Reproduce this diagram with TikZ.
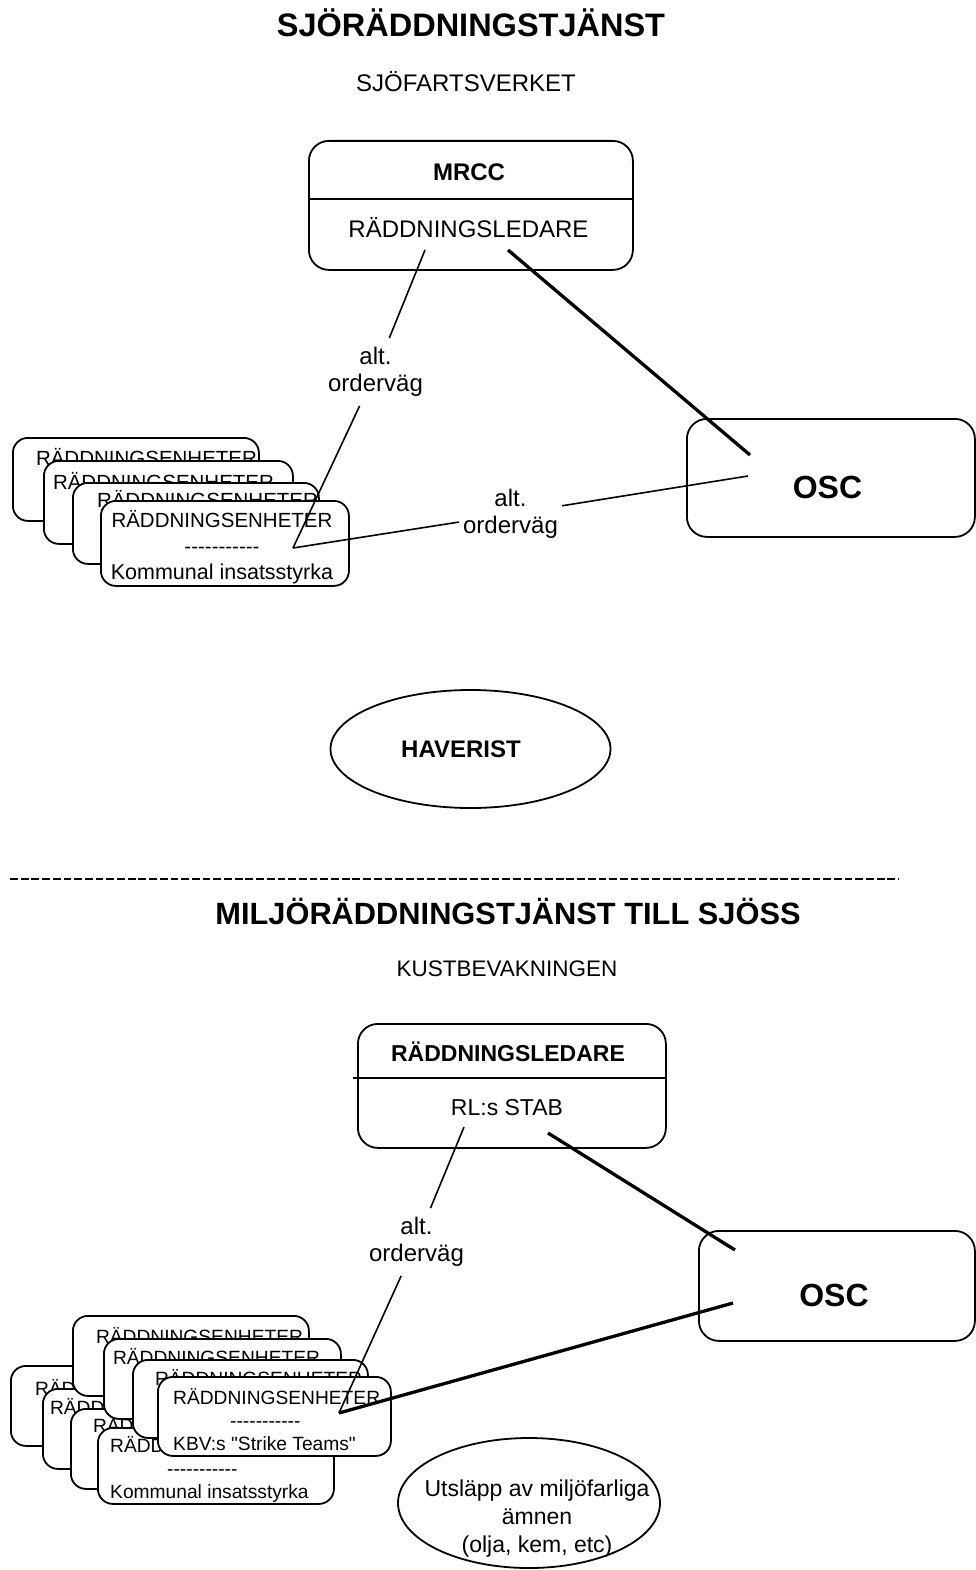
\documentclass[tikz,border=0pt]{standalone}
\usepackage{fontspec}
\setmainfont{Liberation Sans}[Ligatures=TeXOff]
\usepackage{tikz}
\usetikzlibrary{shapes.geometric}
\tikzset{
roundbox/.style={
    rectangle,
    draw=black,
    fill=white,
    line width=1.8pt,
    rounded corners=20pt,
    anchor=north west,
    inner sep=0pt
},
unitbox/.style={
    roundbox,
    rounded corners=15pt
},
blob/.style={
    ellipse,
    draw=black,
    fill=white,
    line width=1.8pt,
    inner sep=0pt
},
heading/.style={font=\fontsize{32.5pt}{38pt}\selectfont\bfseries, anchor=base, inner sep=0pt},
subheading/.style={font=\fontsize{24pt}{29pt}\selectfont, anchor=base, inner sep=0pt},
boldtext/.style={font=\fontsize{24pt}{29pt}\selectfont\bfseries, anchor=base, inner sep=0pt},
plaintext/.style={font=\fontsize{24pt}{29pt}\selectfont, anchor=base, inner sep=0pt},
osctext/.style={font=\fontsize{32pt}{38pt}\selectfont\bfseries, anchor=base, inner sep=0pt},
backtext/.style={font=\fontsize{20.5pt}{25.5pt}\selectfont, anchor=base, inner sep=0pt},
backtextsm/.style={font=\fontsize{19.2pt}{23pt}\selectfont, anchor=base, inner sep=0pt},
unittext/.style={align=center, font=\fontsize{20.5pt}{26pt}\selectfont, inner sep=0pt},
unittextsm/.style={align=left, anchor=west, font=\fontsize{19.2pt}{23pt}\selectfont, inner sep=0pt},
ordertext/.style={align=center, font=\fontsize{24pt}{27pt}\selectfont, inner xsep=4pt, inner ysep=9pt},
altline/.style={line width=1.6pt},
mainline/.style={line width=3.3pt}
}

\begin{document}
\begin{tikzpicture}[x=1pt, y=-1pt]

    \path[use as bounding box, fill=white] (0,0) rectangle (975,1570);

    % upper half: sjoraddning
    \node[heading] (sjotitle) at (471,37) {SJÖRÄDDNINGSTJÄNST};
    \node[subheading] (sjofv) at (466,92) {SJÖFARTSVERKET};

    \node[roundbox, minimum width=324pt, minimum height=129pt] (mrcc) at (308,140) {};
    \coordinate (mrccsplit) at (0,199);
    \draw[line width=1.8pt] (mrcc.west |- mrccsplit) -- (mrcc.east |- mrccsplit);
    \node[boldtext] (mrcctxt) at (469,180.6) {MRCC};
    \node[plaintext] (mrccrl) at (468.5,238) {RÄDDNINGSLEDARE};

    \node[roundbox, minimum width=288pt, minimum height=118pt] (osc1) at (686,418) {};
    \node[osctext] (osc1txt) at (827.5,498) {OSC};

    \node[unitbox, minimum width=246pt, minimum height=83pt] (u1) at (12,437) {};
    \node[backtext] (u1txt) at (146.5,465.3) {RÄDDNINGSENHETER};
    \node[unitbox, minimum width=249pt, minimum height=83pt] (u2) at (43,460) {};
    \node[backtext] (u2txt) at (163.5,489.3) {RÄDDNINGSENHETER};
    \node[unitbox, minimum width=246pt, minimum height=81pt] (u3) at (72,482) {};
    \node[backtext] (u3txt) at (207.5,507.3) {RÄDDNINGSENHETER};
    \node[unitbox, minimum width=248pt, minimum height=85pt] (u4) at (100,500) {};
    \node[unittext] (u4txt) at (222,547.5) {RÄDDNINGSENHETER\\-----------\\{\fontsize{21.5pt}{26pt}\selectfont Kommunal insatsstyrka}};

    \node[blob, minimum width=280pt, minimum height=118pt] (hav) at (470.5,749) {};
    \node[boldtext] (havtxt) at (461,757.6) {HAVERIST};

    \node[ordertext] (alt1) at (375.5,372) {alt.\\orderväg};
    \node[ordertext] (alt2) at (510.5,514) {alt.\\orderväg};

    % upper edges
    \coordinate (mrccA) at (425,250);
    \coordinate (mrccB) at (508,250);
    \coordinate (osc1A) at (750,455);
    \coordinate (osc1B) at (748,476);
    \coordinate (u4A) at (293,548);
    \draw[mainline] (mrccB) -- (osc1A);
    \draw[altline] (mrccA) -- (alt1);
    \draw[altline] (alt1) -- (u4A);
    \draw[altline] (u4A) -- (alt2);
    \draw[altline] (alt2) -- (osc1B);

    % separator
    \coordinate (sepL) at (10,879);
    \coordinate (sepR) at (899,879);
    \draw[line width=2.2pt, dash pattern=on 7.8pt off 2.9pt] (sepL) -- (sepR);

    % lower half: miljoraddning
    \node[heading, font=\fontsize{30.8pt}{36pt}\selectfont\bfseries] (miljtitle) at (508,924) {MILJÖRÄDDNINGSTJÄNST TILL SJÖSS};
    \node[subheading, font=\fontsize{22.5pt}{27pt}\selectfont] (kbv) at (507,976.5) {KUSTBEVAKNINGEN};

    \node[roundbox, minimum width=308pt, minimum height=124pt] (rl) at (357,1023) {};
    \coordinate (rlsplit) at (0,1078);
    \draw[line width=1.8pt] ([xshift=-4pt]rl.west |- rlsplit) -- (rl.east |- rlsplit);
    \node[boldtext, font=\fontsize{23pt}{28pt}\selectfont\bfseries] (rltxt) at (508,1061) {RÄDDNINGSLEDARE};
    \node[plaintext, font=\fontsize{23pt}{28pt}\selectfont] (rlstab) at (507,1115) {RL:s STAB};

    \node[roundbox, minimum width=276pt, minimum height=110pt] (osc2) at (698,1230) {};
    \node[osctext] (osc2txt) at (834,1306.5) {OSC};

    \node[unitbox, minimum width=236pt, minimum height=80pt] (k1) at (10,1365) {};
    \node[backtextsm] (k1txt) at (138.5,1395) {RÄDDNINGSENHETER};
    \node[unitbox, minimum width=236pt, minimum height=80pt] (k2) at (42,1388) {};
    \node[backtextsm] (k2txt) at (153.5,1414) {RÄDDNINGSENHETER};
    \node[unitbox, minimum width=236pt, minimum height=80pt] (k3) at (70,1408) {};
    \node[backtextsm] (k3txt) at (196.5,1432) {RÄDDNINGSENHETER};
    \node[unitbox, minimum width=236pt, minimum height=76pt] (k4) at (97,1427) {};
    \node[unittextsm] (k4txt) at (110,1469) {RÄDDNINGSENHETER\\\hspace*{57pt}-----------\\Kommunal insatsstyrka};

    \node[unitbox, minimum width=236pt, minimum height=80pt] (s1) at (72,1315) {};
    \node[backtextsm] (s1txt) at (199.5,1343) {RÄDDNINGSENHETER};
    \node[unitbox, minimum width=237pt, minimum height=80pt] (s2) at (103,1338) {};
    \node[backtextsm] (s2txt) at (216.5,1364) {RÄDDNINGSENHETER};
    \node[unitbox, minimum width=235pt, minimum height=78pt] (s3) at (132,1359) {};
    \node[backtextsm] (s3txt) at (258.5,1385) {RÄDDNINGSENHETER};
    \node[unitbox, minimum width=233pt, minimum height=79pt] (s4) at (157,1376) {};
    \node[unittextsm] (s4txt) at (173,1420) {RÄDDNINGSENHETER\\\hspace*{57pt}-----------\\KBV:s "Strike Teams"};

    \node[blob, minimum width=262pt, minimum height=130pt] (utsl) at (529,1503) {};
    \node[align=center, font=\fontsize{23pt}{28pt}\selectfont, inner sep=0pt] (utsltxt) at (537,1519) {Utsläpp av miljöfarliga\\ämnen\\(olja, kem, etc)};

    \node[ordertext] (alt3) at (416.5,1242) {alt.\\orderväg};

    % lower edges
    \coordinate (rlA) at (464,1127);
    \coordinate (rlB) at (548,1133);
    \coordinate (osc2A) at (735,1250);
    \coordinate (osc2B) at (733,1303);
    \coordinate (s4A) at (339,1413);
    \draw[mainline] (rlB) -- (osc2A);
    \draw[altline] (rlA) -- (alt3);
    \draw[altline] (alt3) -- (s4A);
    \draw[mainline] (s4A) -- (osc2B);

\end{tikzpicture}
\end{document}
